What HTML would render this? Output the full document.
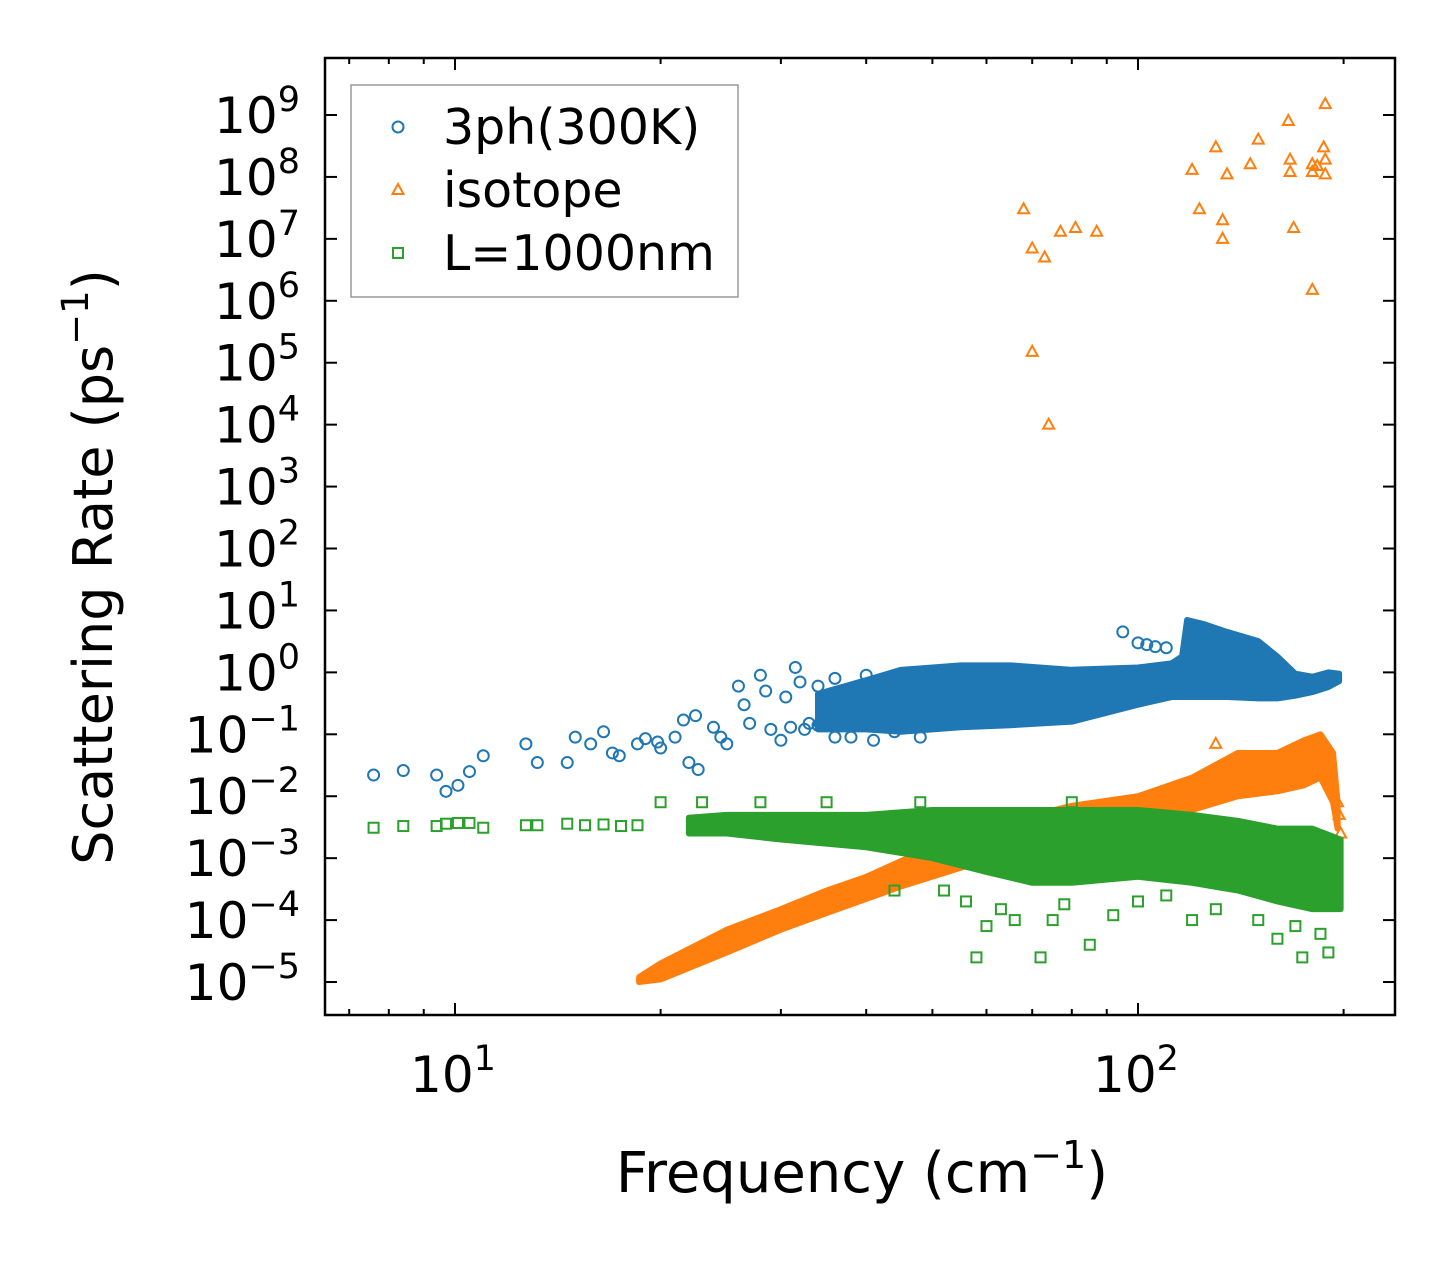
<!DOCTYPE html>
<html><head><meta charset="utf-8"><style>
html,body{margin:0;padding:0;background:#fff;}
svg{display:block;font-family:"DejaVu Sans","Liberation Sans",sans-serif;}
</style></head><body>
<svg id="chart" width="1455" height="1265" viewBox="0 0 1455 1265" xmlns="http://www.w3.org/2000/svg">
<rect x="0" y="0" width="1455" height="1265" fill="#fff"/>
<defs><clipPath id="clip"><rect x="325" y="58" width="1070" height="957"/></clipPath></defs>
<g id="plot" clip-path="url(#clip)"></g>
<g id="axes"></g>
</svg>
<script>
// ---- data ----
const blueFreq = [7.6,8.4,9.4,9.7,10.1,10.5,11,12.7,13.2,14.6,15,15.8,16.5,17,17.4,18.5,19,19.8,20,21,21.6,22.5,22,22.7,23.9,24.5,25,26,26.5,27,28,28.5,29,30,30.5,31.5,32,33,34,35,36,37,38,40,42,45,95,100,103,106,110,31,32.5,34,36,38,41,44,48];
const blueVal  = [0.022,0.026,0.022,0.012,0.015,0.025,0.045,0.07,0.035,0.035,0.09,0.07,0.11,0.05,0.045,0.07,0.085,0.075,0.06,0.09,0.17,0.2,0.035,0.027,0.13,0.09,0.07,0.6,0.3,0.15,0.9,0.5,0.12,0.08,0.4,1.2,0.7,0.15,0.6,0.3,0.8,0.2,0.5,0.9,0.3,0.6,4.5,3,2.8,2.6,2.5,0.13,0.12,0.14,0.09,0.09,0.08,0.11,0.09];
const blueBandFreq  = [34,40,45,55,65,80,100,112,116,118,125,135,150,160,170,180,190,197];
const blueBandLow   = [0.12,0.12,0.11,0.13,0.14,0.16,0.3,0.4,0.4,0.4,0.4,0.4,0.38,0.38,0.42,0.48,0.58,0.72];
const blueBandHigh  = [0.45,0.75,1.1,1.3,1.3,1.1,1.2,1.4,1.8,7,6,4.5,3.2,1.8,0.95,0.85,1.0,0.95];

const orangeFreq = [68,70,70,73,74,77,81,87,120,123,130,133,133,135,146,150,166,167,167,169,180,180,183,180,188,187,188,188,130,196,197,198];
const orangeVal  = [3e7,7e6,1.5e5,5e6,1e4,1.3e7,1.5e7,1.3e7,1.3e8,3e7,3e8,2e7,1e7,1.1e8,1.6e8,4e8,8e8,1.9e8,1.2e8,1.5e7,1.5e6,1.6e8,1.5e8,1.2e8,1.5e9,3e8,1.1e8,1.9e8,0.07,8e-3,5e-3,2.5e-3];
const orangeBandFreq = [18.6,20,25,30,35,40,45,55,65,80,100,120,140,160,175,185,193,196];
const orangeBandLow  = [1e-5,1.1e-5,3e-5,7e-5,1.3e-4,2.2e-4,3.5e-4,7e-4,1.3e-3,2.5e-3,4e-3,6e-3,1e-2,1.2e-2,1.5e-2,2e-2,8e-3,3e-3];
const orangeBandHigh = [1.2e-5,2e-5,7e-5,1.5e-4,3e-4,5e-4,9e-4,2e-3,4e-3,7e-3,1e-2,2e-2,5e-2,5e-2,8e-2,1e-1,5e-2,8e-3];

const greenFreq = [7.6,8.4,9.4,9.7,10.1,10.5,11,12.7,13.2,14.6,15.5,16.5,17.5,18.5,20,23,28,35,48,80,44,58,72,75,85,120,160,190,174,60,66,100,150,52,56,63,78,92,110,130,170,185];
const greenVal  = [3.1e-3,3.3e-3,3.3e-3,3.6e-3,3.7e-3,3.7e-3,3.1e-3,3.4e-3,3.4e-3,3.6e-3,3.4e-3,3.5e-3,3.3e-3,3.4e-3,8e-3,8e-3,8e-3,8e-3,8e-3,8e-3,3e-4,2.5e-5,2.5e-5,1e-4,4e-5,1e-4,5e-5,3e-5,2.5e-5,8e-5,1e-4,2e-4,1e-4,3e-4,2e-4,1.5e-4,1.8e-4,1.2e-4,2.5e-4,1.5e-4,8e-5,6e-5];
const greenBandFreq = [22,25,30,40,50,60,70,80,100,120,140,160,180,198];
const greenBandLow  = [2.5e-3,2.5e-3,2e-3,1.5e-3,1e-3,6e-4,4e-4,4e-4,5e-4,4e-4,3e-4,2e-4,1.5e-4,1.5e-4];
const greenBandHigh = [4.5e-3,5e-3,5e-3,5e-3,6e-3,6e-3,6e-3,6e-3,6e-3,5e-3,4e-3,3e-3,3e-3,2e-3];

const yTickExp = [-5,-4,-3,-2,-1,0,1,2,3,4,5,6,7,8,9];
const xTickExp = [1,2];

// ---- axes ----
const X0=325,X1=1395,Y0=58,Y1=1015;
const xs = f => 455 + (Math.log10(f)-1)*683;
const ys = v => 115 + (9-Math.log10(v))*61.93;
const NS="http://www.w3.org/2000/svg";
const plot=document.getElementById('plot'), axes=document.getElementById('axes');
function mk(tag,attrs,parent){const e=document.createElementNS(NS,tag);for(const k in attrs)e.setAttribute(k,attrs[k]);parent.appendChild(e);return e;}

const C={b:'#1f77b4',o:'#ff7f0e',g:'#2ca02c'};
function band(fr,lo,hi,col,name){
  let pts=fr.map((f,i)=>xs(f)+','+ys(hi[i]));
  for(let i=fr.length-1;i>=0;i--)pts.push(xs(fr[i])+','+ys(lo[i]));
  const p=mk('polygon',{points:pts.join(' '),fill:col,stroke:col,'stroke-width':6,'stroke-linejoin':'round'},plot);
  
  
}
function marker(type,x,y,col,parent){
  let e;
  if(type==='c') e=mk('circle',{cx:x,cy:y,r:5.5,fill:'none',stroke:col,'stroke-width':2},parent);
  else if(type==='t') e=mk('polygon',{points:`${x},${y-6} ${x-5.5},${y+4} ${x+5.5},${y+4}`,fill:'none',stroke:col,'stroke-width':2},parent);
  else e=mk('rect',{x:x-5,y:y-5,width:10,height:10,fill:'none',stroke:col,'stroke-width':2},parent);
  return e;
}
band(blueBandFreq,blueBandLow,blueBandHigh,C.b,'3ph-dense-band');
blueFreq.forEach((f,i)=>{const e=marker('c',xs(f),ys(blueVal[i]),C.b,plot);

});
band(orangeBandFreq,orangeBandLow,orangeBandHigh,C.o,'isotope-dense-band');
orangeFreq.forEach((f,i)=>{const e=marker('t',xs(f),ys(orangeVal[i]),C.o,plot);

});
band(greenBandFreq,greenBandLow,greenBandHigh,C.g,'boundary-dense-band');
greenFreq.forEach((f,i)=>{const e=marker('s',xs(f),ys(greenVal[i]),C.g,plot);

});

// frame
const fr=mk('rect',{x:X0,y:Y0,width:X1-X0,height:Y1-Y0,fill:'none',stroke:'#000','stroke-width':2.5},axes);


// y ticks
yTickExp.forEach(n=>{
  const y=ys(Math.pow(10,n));
  mk('line',{x1:X0,x2:X0+12,y1:y,y2:y,stroke:'#000','stroke-width':2},axes);
  mk('line',{x1:X1,x2:X1-12,y1:y,y2:y,stroke:'#000','stroke-width':2},axes);
  const t=mk('text',{x:300,y:y+18,'text-anchor':'end','font-size':50},axes);
  
  
  t.innerHTML='10<tspan dy="-22" font-size="35">'+(n<0?'\u2212'+(-n):n)+'</tspan>';
});
// x ticks
for(let d=0;d<3;d++){for(let m=1;m<10;m++){
  const f=m*Math.pow(10,d); const x=xs(f);
  if(x<X0||x>X1)continue;
  const L=m===1?12:6;
  mk('line',{x1:x,x2:x,y1:Y1,y2:Y1-L,stroke:'#000','stroke-width':2},axes);
  mk('line',{x1:x,x2:x,y1:Y0,y2:Y0+L,stroke:'#000','stroke-width':2},axes);
}}
xTickExp.forEach(n=>{
  const t=mk('text',{x:xs(Math.pow(10,n))-2,y:1092,'text-anchor':'middle','font-size':50},axes);
  
  
  t.innerHTML='10<tspan dy="-22" font-size="35">'+n+'</tspan>';
});
// titles
const xt=mk('text',{x:862,y:1192,'text-anchor':'middle','font-size':56},axes);


xt.innerHTML='Frequency (cm<tspan dy="-24" font-size="38">\u22121</tspan><tspan dy="24">)</tspan>';
const yt=mk('text',{x:0,y:0,'text-anchor':'middle','font-size':54,transform:'translate(112,567) rotate(-90)'},axes);


yt.innerHTML='Scattering Rate (ps<tspan dy="-24" font-size="37">\u22121</tspan><tspan dy="24">)</tspan>';
// legend
const lg=mk('g',{},axes);


mk('rect',{x:351,y:85,width:387,height:212,fill:'#fff',stroke:'#999','stroke-width':1.5},lg);
[['c',C.b,'3ph(300K)'],['t',C.o,'isotope'],['s',C.g,'L=1000nm']].forEach((e,i)=>{
  const y=127+i*63;
  const g=mk('g',{},lg);
  
  
  marker(e[0],398,y,e[1],g);
  const t=mk('text',{x:443,y:y+17,'font-size':49},g); t.textContent=e[2];
});
</script>
</body></html>
